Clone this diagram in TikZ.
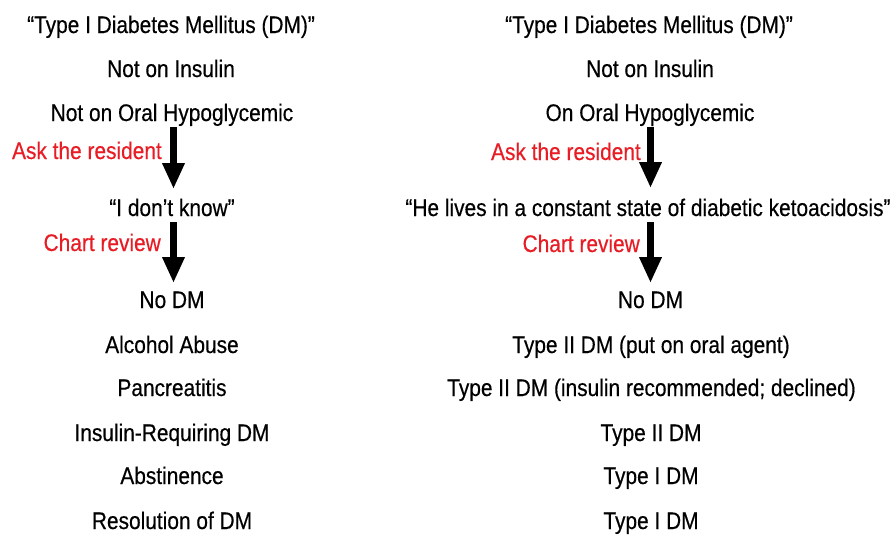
\documentclass[tikz,border=0pt]{standalone}
\usepackage{fontspec}
\setmainfont[FakeStretch=0.87,FakeBold=0.4]{Liberation Sans}
\usetikzlibrary{arrows.meta}
\definecolor{labred}{RGB}{232,28,36}
\tikzset{
  txt/.style={anchor=base, inner sep=0pt, font=\fontsize{24}{27}\selectfont, text=black},
  redlbl/.style={anchor=base east, inner sep=0pt, font=\fontsize{24}{27}\selectfont, text=labred},
  bigarrow/.style={line width=6.5pt, -{Triangle[width=21pt,length=26pt]}, black}
}
\begin{document}
\begin{tikzpicture}[x=1pt,y=-1pt]
\useasboundingbox (0,0) rectangle (896,538);
% left column
\node[txt] (l1) at (171,33) {“Type I Diabetes Mellitus (DM)”};
\node[txt] (l2) at (171,77) {Not on Insulin};
\node[txt] (l3) at (172,121) {Not on Oral Hypoglycemic};
\node[txt] (l4) at (172,216) {“I don’t know”};
\node[txt] (l5) at (172,308) {No DM};
\node[txt] (l6) at (172,353) {Alcohol Abuse};
\node[txt] (l7) at (172,396) {Pancreatitis};
\node[txt] (l8) at (172,441) {Insulin-Requiring DM};
\node[txt] (l9) at (172,484) {Abstinence};
\node[txt] (l10) at (172,529) {Resolution of DM};
\coordinate (la1s) at (173.5,127);
\coordinate (la1e) at (173.5,189);
\coordinate (la2s) at (173.5,222);
\coordinate (la2e) at (173.5,283);
\draw[bigarrow] (la1s) -- (la1e);
\draw[bigarrow] (la2s) -- (la2e);
\node[redlbl] (lr1) at (162,159) {Ask the resident};
\node[redlbl] (lr2) at (161,251) {Chart review};
% right column
\node[txt] (r1) at (649,33) {“Type I Diabetes Mellitus (DM)”};
\node[txt] (r2) at (650,77) {Not on Insulin};
\node[txt] (r3) at (650,121) {On Oral Hypoglycemic};
\node[txt] (r4) at (648,216) {“He lives in a constant state of diabetic ketoacidosis”};
\node[txt] (r5) at (650.5,308) {No DM};
\node[txt] (r6) at (651,353) {Type II DM (put on oral agent)};
\node[txt] (r7) at (651.5,396) {Type II DM (insulin recommended; declined)};
\node[txt] (r8) at (651,441) {Type II DM};
\node[txt] (r9) at (651,484) {Type I DM};
\node[txt] (r10) at (651,529) {Type I DM};
\coordinate (ra1s) at (650.5,127);
\coordinate (ra1e) at (650.5,188);
\coordinate (ra2s) at (650.5,222);
\coordinate (ra2e) at (650.5,283);
\draw[bigarrow] (ra1s) -- (ra1e);
\draw[bigarrow] (ra2s) -- (ra2e);
\node[redlbl] (rr1) at (641,160) {Ask the resident};
\node[redlbl] (rr2) at (640,252) {Chart review};
\end{tikzpicture}
\end{document}
